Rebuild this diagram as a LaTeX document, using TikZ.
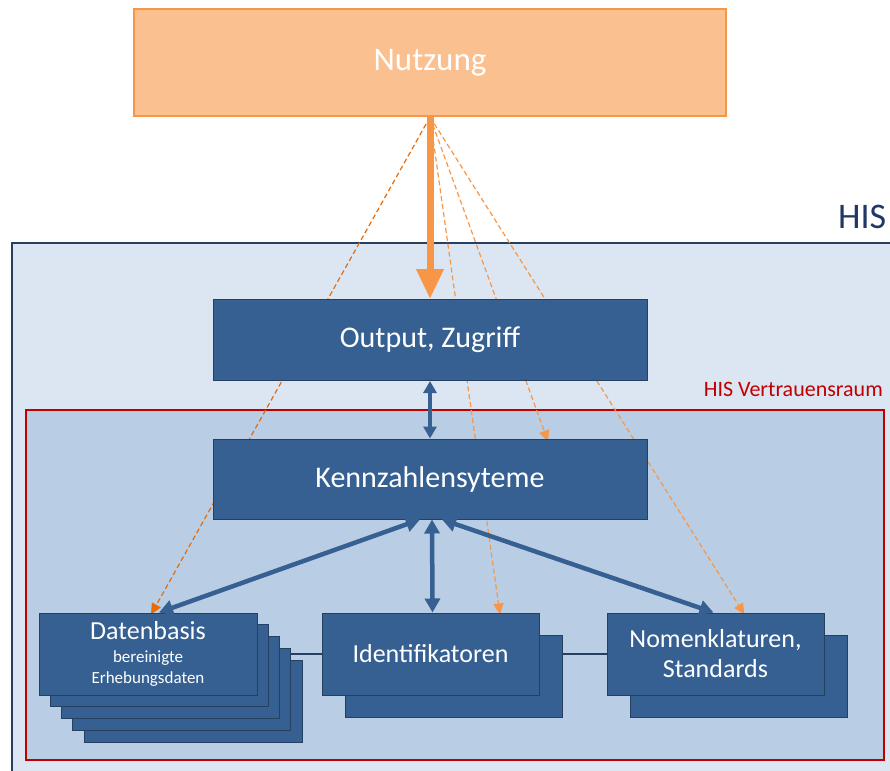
\documentclass[tikz,border=0pt]{standalone}
\usepackage{fontspec}
\setmainfont{Carlito}
\usetikzlibrary{arrows.meta}
\pgfdeclarelayer{bg}
\pgfdeclarelayer{mid}
\pgfsetlayers{bg,mid,main}
\definecolor{hisfill}{HTML}{DCE6F2}
\definecolor{hisline}{HTML}{254061}
\definecolor{histext}{HTML}{1F3864}
\definecolor{trustfill}{HTML}{B9CDE5}
\definecolor{trustred}{HTML}{C00000}
\definecolor{boxblue}{HTML}{366092}
\definecolor{boxline}{HTML}{254061}
\definecolor{nutzfill}{HTML}{FAC090}
\definecolor{nutzline}{HTML}{F79646}
\definecolor{orangeA}{HTML}{F79646}
\definecolor{orangeB}{HTML}{E46C0A}
\tikzset{
  bluebox/.style={rectangle, fill=boxblue, draw=boxline, line width=1pt, text=white, inner sep=0pt, align=center},
  bigbox/.style={bluebox, minimum width=434pt, minimum height=81pt, font=\fontsize{30}{34}\selectfont},
  smallbox/.style={bluebox, minimum width=217pt, minimum height=82pt, font=\fontsize{26}{30}\selectfont},
  dashlink/.style={draw=orangeA, line width=1.2pt, dash pattern=on 5pt off 3pt, -{Triangle[length=11pt,width=10pt]}},
  bigarrow/.style={draw=orangeA, line width=7pt, -{Triangle[length=30pt,width=26pt]}},
  bluelink/.style={draw=boxblue, line width=4.5pt, {Triangle[length=14pt,width=15pt]}-{Triangle[length=14pt,width=15pt]}},
  thinlink/.style={draw=boxline, line width=1.2pt}
}
\begin{document}
\begin{tikzpicture}[x=1pt,y=-1pt]
\useasboundingbox (0,0) rectangle (890,770);
\begin{pgfonlayer}{bg}
\node[rectangle, fill=hisfill, draw=hisline, line width=2pt, minimum width=893pt, minimum height=542pt] (his) at (458.5,514) {};
\node[rectangle, fill=trustfill, draw=trustred, line width=2pt, minimum width=858pt, minimum height=350pt] (trust) at (455,585) {};
\end{pgfonlayer}
\node[anchor=base west, text=histext, font=\fontsize{36}{40}\selectfont, inner sep=0pt] (hislabel) at (838,228) {HIS};
\node[anchor=base east, text=trustred, font=\fontsize{22}{26}\selectfont, inner sep=0pt] (trustlabel) at (883,396) {HIS Vertrauensraum};

\node[rectangle, fill=nutzfill, draw=nutzline, line width=2pt, minimum width=592pt, minimum height=107pt, text=white, font=\fontsize{33}{38}\selectfont] (nutz) at (430,62.5) {\raisebox{-3pt}{Nutzung}};
\node[bigbox] (out) at (430,340) {Output, Zugriff};
\node[bigbox, minimum height=80pt] (kenn) at (430,479) {Kennzahlensyteme};

% Datenbasis stack
\foreach \k in {4,3,2,1}{
  \node[smallbox, minimum width=218pt] (dat\k) at ({148+11.3*\k},{654+11.8*\k}) {};
}
\node[smallbox, minimum width=218pt, font=\fontsize{17}{21}\selectfont] (dat) at (148,654) {{\fontsize{26}{28}\selectfont Datenbasis}\\[2pt]bereinigte\\Erhebungsdaten};

\node[smallbox] (ident2) at (454,676.5) {};
\node[smallbox] (ident) at (430.5,654) {Identifikatoren};
\node[smallbox] (nom2) at (738.5,676.5) {};
\node[smallbox] (nom) at (715.5,654) {Nomenklaturen,\\Standards};

\begin{pgfonlayer}{mid}
\draw[thinlink] (dat.east) -- (ident.west);
\draw[thinlink] (ident.east) -- (nom.west);
\draw[dashlink, draw=orangeB, -{Triangle[length=11pt,width=10pt,fill=orangeB]}] (nutz.south) -- ([xshift=3pt,yshift=-2pt]dat.north);
\draw[dashlink] (nutz.south) -- ([xshift=118pt,yshift=-3pt]kenn.north);
\draw[dashlink] (nutz.south) -- ([xshift=69.5pt,yshift=-2pt]ident.north);
\draw[dashlink] (nutz.south) -- ([xshift=29pt,yshift=-2pt]nom.north);
\end{pgfonlayer}

\draw[bigarrow] (nutz.south) -- (out.north);
\draw[bluelink, line width=4pt, {Triangle[length=12pt,width=13pt]}-{Triangle[length=12pt,width=13pt]}] (out.south) -- (kenn.south |- kenn.north);
\draw[bluelink] ([xshift=-10pt]kenn.south) -- ([xshift=11pt]dat.north);
\draw[bluelink] ([xshift=2pt]kenn.south) -- ([xshift=2pt]ident.north);
\draw[bluelink] ([xshift=12pt]kenn.south) -- ([xshift=-2pt]nom.north);
\end{tikzpicture}
\end{document}
